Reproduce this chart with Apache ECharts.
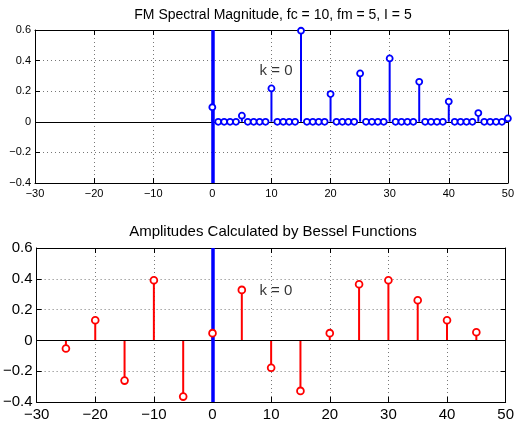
<!DOCTYPE html>
<html>
<head>
<meta charset="utf-8">
<script src="https://cdn.jsdelivr.net/npm/echarts@6/dist/echarts.min.js"></script>
<style>html,body{margin:0;padding:0;background:#fff}#c{width:517px;height:424px}</style>
</head>
<body>
<div id="c"></div>
<script>
// ---- data ----
var topTitle = 'FM Spectral Magnitude, fc = 10, fm = 5, I = 5';
var bottomTitle = 'Amplitudes Calculated by Bessel Functions';
var topX = [];
for (var i = 0; i <= 50; i++) topX.push(i);
var topY = [0.095,0,0,0,0, 0.04,0,0,0,0, 0.218,0,0,0,0, 0.595,0,0,0,0,
            0.181,0,0,0,0, 0.316,0,0,0,0, 0.414,0,0,0,0, 0.261,0,0,0,0,
            0.132,0,0,0,0, 0.057,0,0,0,0, 0.022];
var botX = [-25,-20,-15,-10,-5,0,5,10,15,20,25,30,35,40,45];
var botY = [-0.053,0.131,-0.261,0.391,-0.365,0.047,0.328,-0.178,-0.328,0.047,0.365,0.391,0.261,0.131,0.053];
var carrierX = [0];
var annotText = 'k = 0';
var annotTop = [8, 0.33];
var annotBot = [8, 0.32];
var xMin = -30, xMax = 50, xStep = 10;
var yMin = -0.4, yMax = 0.6, yStep = 0.2;

function pairs(xs, ys){ return xs.map(function(x,i){ return [x, ys[i]]; }); }
var topData = pairs(topX, topY);
var botData = pairs(botX, botY);

var FONT = '"Liberation Sans", Arial, Helvetica, sans-serif';
function fmt(v){ var s = String(Math.round(v*10)/10); return s.replace('-', '\u2212'); }

function xAxes(gi, fs, pos, showLabel){
  return {
    gridIndex: gi, type: 'value', min: xMin, max: xMax, interval: xStep, position: pos,
    axisLine: {show: true, onZero: false, lineStyle: {color: '#000', width: 1}},
    axisTick: {show: true, inside: true, length: 5, lineStyle: {color: '#000'}},
    axisLabel: {show: showLabel, color: '#000', fontSize: fs, fontFamily: FONT, margin: 5, formatter: fmt},
    splitLine: {show: showLabel, lineStyle: {color: '#777', type: [1, 3], width: 1}}
  };
}
function yAxes(gi, fs, pos, showLabel){
  return {
    gridIndex: gi, type: 'value', min: yMin, max: yMax, interval: yStep, position: pos,
    axisLine: {show: true, onZero: false, lineStyle: {color: '#000', width: 1}},
    axisTick: {show: true, inside: true, length: 5, lineStyle: {color: '#000'}},
    axisLabel: {show: showLabel, color: '#000', fontSize: fs, fontFamily: FONT, margin: 4, formatter: fmt},
    splitLine: {show: showLabel, lineStyle: {color: '#777', type: [1, 3], width: 1}}
  };
}

function stemSeries(xi, yi, data, color, width){
  return {
    type: 'custom', xAxisIndex: xi, yAxisIndex: yi, z: 3, silent: true,
    data: data,
    renderItem: function(params, api){
      var p0 = api.coord([api.value(0), 0]);
      var p1 = api.coord([api.value(0), api.value(1)]);
      return {type: 'line', shape: {x1: p0[0], y1: p0[1], x2: p1[0], y2: p1[1]},
              style: {stroke: color, lineWidth: width}};
    }
  };
}
function markerSeries(xi, yi, data, color, size, bw){
  return {
    type: 'scatter', xAxisIndex: xi, yAxisIndex: yi, z: 5, silent: true,
    data: data, symbol: 'circle', symbolSize: size,
    itemStyle: {color: '#fff', borderColor: color, borderWidth: bw, opacity: 1}
  };
}
function refLines(xi, yi){
  return {
    type: 'line', xAxisIndex: xi, yAxisIndex: yi, z: 2, silent: true, data: [],
    markLine: {
      silent: true, symbol: 'none', label: {show: false}, animation: false,
      data: [
        {yAxis: 0, lineStyle: {color: '#000', width: 1, type: 'solid'}},
        {xAxis: carrierX[0], lineStyle: {color: '#0000ff', width: 3.5, type: 'solid'}}
      ]
    }
  };
}
function annot(xi, yi, pt){
  return {
    type: 'scatter', xAxisIndex: xi, yAxisIndex: yi, z: 6, silent: true,
    data: [pt], symbolSize: 0,
    label: {show: true, position: 'right', distance: 0, formatter: annotText,
            color: '#000', fontSize: 15, fontFamily: FONT}
  };
}

var chart = echarts.init(document.getElementById('c'), null, {renderer: 'canvas'});
chart.setOption({
  animation: false,
  backgroundColor: '#fff',
  graphic: [
    {type: 'text', x: 273, y: 15, style: {text: topTitle, fill: '#000', font: '14px ' + FONT, textAlign: 'center', textVerticalAlign: 'middle'}},
    {type: 'text', x: 273, y: 232, style: {text: bottomTitle, fill: '#000', font: '15px ' + FONT, textAlign: 'center', textVerticalAlign: 'middle'}}
  ],
  grid: [
    {left: 35, top: 30, width: 476, height: 153},
    {left: 35, top: 248, width: 476, height: 154}
  ],
  xAxis: [xAxes(0, 11, 'bottom', true), xAxes(0, 11, 'top', false),
          xAxes(1, 15, 'bottom', true), xAxes(1, 15, 'top', false)],
  yAxis: [yAxes(0, 11, 'left', true), yAxes(0, 11, 'right', false),
          yAxes(1, 15, 'left', true), yAxes(1, 15, 'right', false)],
  series: [
    refLines(0, 0),
    stemSeries(0, 0, topData, '#0000ff', 2),
    markerSeries(0, 0, topData, '#0000ff', 6, 1.8),
    annot(0, 0, annotTop),
    refLines(2, 2),
    stemSeries(2, 2, botData, '#ff0000', 2),
    markerSeries(2, 2, botData, '#ff0000', 6.8, 1.8),
    annot(2, 2, annotBot)
  ]
});
</script>
</body>
</html>
